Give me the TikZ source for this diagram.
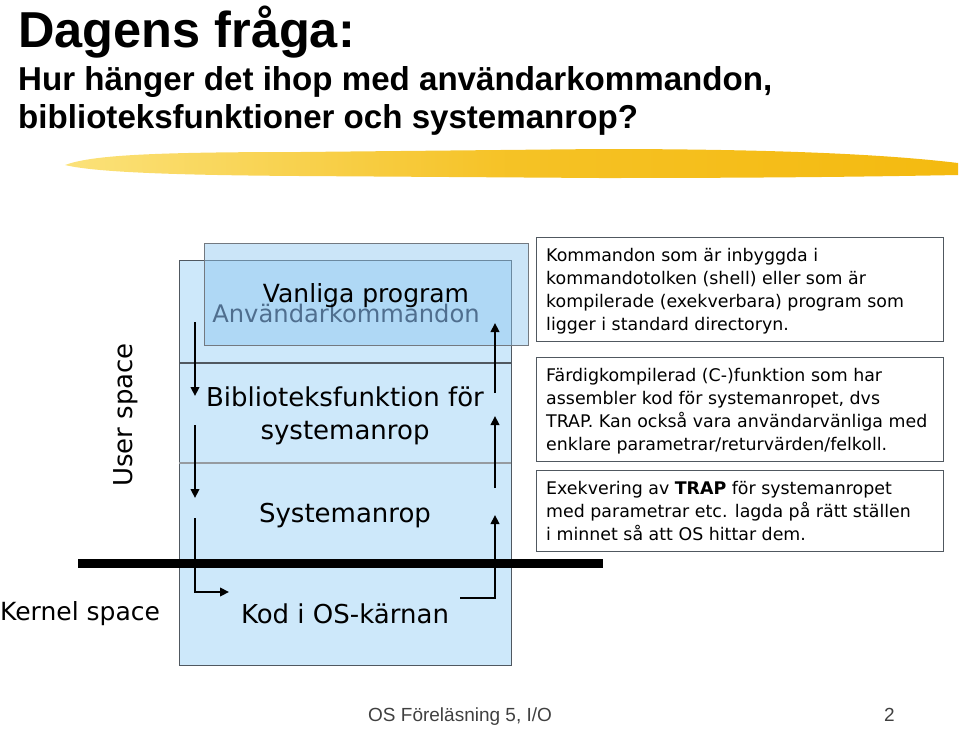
\documentclass[tikz,border=0pt]{standalone}
\usepackage{fontspec}
\setmainfont{DejaVu Sans}
\newfontfamily\arialfont{Liberation Sans}
\usetikzlibrary{arrows.meta}
\definecolor{bigblue}{HTML}{CDE8FA}
\definecolor{topblue}{HTML}{8CC6F0}
\definecolor{boxline}{HTML}{505860}
\definecolor{ghost}{HTML}{4F6E8E}
\definecolor{footgray}{HTML}{404040}
\definecolor{brushA}{HTML}{FBE27A}
\definecolor{brushB}{HTML}{F4BA10}
\tikzset{
  x=1pt, y=-1pt,
  layer/.style={font=\fontsize{26}{30}\selectfont, text=black},
  infobox/.style={draw=boxline, line width=1.2pt, fill=white},
  infotext/.style={font=\fontsize{17.4}{23}\selectfont, align=left, anchor=north west, inner sep=0pt},
  flow/.style={line width=2.8pt, -{Triangle[length=9pt,width=8.5pt]}},
}
\begin{document}
\begin{tikzpicture}
\useasboundingbox (0,0) rectangle (960,729);
% title
\node[anchor=base west, inner sep=0pt, font=\arialfont\bfseries\fontsize{50.5}{56}\selectfont] (title) at (18,47) {Dagens fråga:};
\node[anchor=base west, inner sep=0pt, font=\arialfont\bfseries\fontsize{33.1}{38}\selectfont] (sub1) at (18,90) {Hur hänger det ihop med användarkommandon,};
\node[anchor=base west, inner sep=0pt, font=\arialfont\bfseries\fontsize{33.1}{38}\selectfont] (sub2) at (18,128) {biblioteksfunktioner och systemanrop?};
% brush stroke
\shade[left color=brushA, right color=brushB, middle color=brushB!80!brushA]
  (65,165) .. controls (90,156) and (140,152) .. (300,152) -- (600,149) .. controls (800,149) and (900,156) .. (958,163)
  -- (958,175) .. controls (850,177) and (750,178) .. (600,178) -- (300,176) .. controls (150,175) and (90,171) .. (65,165) -- cycle;
% big box
\node[draw=boxline, line width=1.2pt, fill=bigblue, minimum width=332pt, minimum height=405pt, anchor=north west, inner sep=0pt] (big) at (179,260) {};
% top box (semi transparent)
\node[draw=boxline!80, line width=1.2pt, fill=topblue, fill opacity=0.45, minimum width=324pt, minimum height=102pt, anchor=north west, inner sep=0pt] (top) at (204,243) {};
% separators
\coordinate (s1l) at (179,363); \coordinate (s1r) at (511,363);
\coordinate (s2l) at (179,463); \coordinate (s2r) at (511,463);
\draw[boxline, line width=1.2pt] (s1l) -- (s1r);
\draw[boxline!60, line width=1.2pt] (s2l) -- (s2r);
% layer texts
\node[layer, text=ghost, font=\fontsize{24.2}{28}\selectfont] (anv) at (346,313) {Användarkommandon};
\node[layer, font=\fontsize{25}{29}\selectfont] (vanl) at (366,296) {Vanliga program};
\node[layer] (bib1) at (345,397) {Biblioteksfunktion för};
\node[layer] (bib2) at (345,433) {systemanrop};
\node[layer] (sys) at (345,516) {Systemanrop};
\node[layer] (kod) at (345,614) {Kod i OS-kärnan};
% side labels
\node[layer, rotate=90] (user) at (126,415) {User space};
\node[layer, anchor=west, inner sep=0pt, font=\fontsize{25}{29}\selectfont] (kern) at (0,614) {Kernel space};
% kernel boundary
\coordinate (kl) at (78,563); \coordinate (kr) at (603,563);
\draw[line width=9pt] (kl) -- (kr);
% arrows down
\coordinate (d1a) at (195,322); \coordinate (d1b) at (195,396);
\coordinate (d2a) at (195,425); \coordinate (d2b) at (195,498);
\coordinate (d3a) at (195,518); \coordinate (d3c) at (195,592); \coordinate (d3b) at (229,592);
\draw[flow] (d1a) -- (d1b);
\draw[flow] (d2a) -- (d2b);
\draw[flow] (d3a) -- (d3c) -- (d3b);
% arrows up
\coordinate (u1a) at (460,598); \coordinate (u1c) at (495,598); \coordinate (u1b) at (495,515);
\coordinate (u2a) at (495,488); \coordinate (u2b) at (495,416);
\coordinate (u3a) at (495,393); \coordinate (u3b) at (495,323);
\draw[flow] (u1a) -- (u1c) -- (u1b);
\draw[flow] (u2a) -- (u2b);
\draw[flow] (u3a) -- (u3b);
% info boxes
\node[infobox, minimum width=407pt, minimum height=104pt, anchor=north west, inner sep=0pt] (b1) at (536,237) {};
\node[infotext] (t1) at (546,248) {Kommandon som är inbyggda i\\kommandotolken (shell) eller som är\\kompilerade (exekverbara) program som\\ligger i standard directoryn.};
\node[infobox, minimum width=407pt, minimum height=104pt, anchor=north west, inner sep=0pt] (b2) at (536,357) {};
\node[infotext] (t2) at (546,368) {Färdigkompilerad (C-)funktion som har\\assembler kod för systemanropet, dvs\\TRAP. Kan också vara användarvänliga med\\enklare parametrar/returvärden/felkoll.};
\node[infobox, minimum width=407pt, minimum height=81pt, anchor=north west, inner sep=0pt] (b3) at (536,470) {};
\node[infotext] (t3) at (546,481) {Exekvering av \textbf{TRAP} för systemanropet\\med parametrar etc. lagda på rätt ställen\\i minnet så att OS hittar dem.};
% footer
\node[anchor=base west, inner sep=0pt, font=\arialfont\fontsize{19}{22}\selectfont, text=footgray] (foot) at (368,721) {OS Föreläsning 5, I/O};
\node[anchor=base west, inner sep=0pt, font=\arialfont\fontsize{19}{22}\selectfont, text=footgray] (page) at (884,721) {2};
\end{tikzpicture}
\end{document}
